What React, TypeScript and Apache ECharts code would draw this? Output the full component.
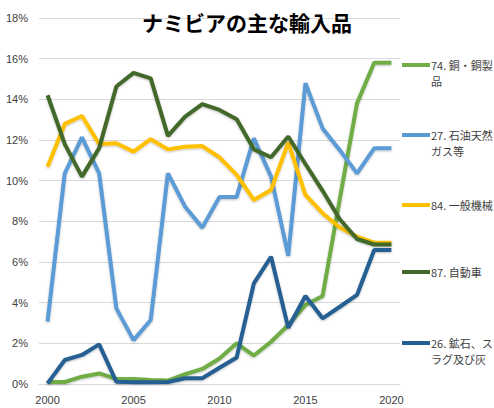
import React, { useEffect, useRef } from "react";
import * as echarts from "echarts";

const years = ["2000","2001","2002","2003","2004","2005","2006","2007","2008","2009","2010","2011","2012","2013","2014","2015","2016","2017","2018","2019","2020"];

const seriesNames = ["74. 銅・銅製品", "27. 石油天然ガス等", "84. 一般機械", "87. 自動車", "26. 鉱石、スラグ及び灰"];
const legendLabels = ["74. 銅・銅製\n品", "27. 石油天然\nガス等", "84. 一般機械", "87. 自動車", "26. 鉱石、ス\nラグ及び灰"];
const seriesColors = ["#70AD47", "#5B9BD5", "#FFC000", "#43682B", "#255E91"];

const copper = [0.1, 0.1, 0.36, 0.52, 0.25, 0.25, 0.2, 0.17, 0.48, 0.74, 1.25, 2.0, 1.4, 2.08, 2.9, 3.89, 4.33, 9.1, 13.8, 15.8, 15.8];
const oilGas = [3.07, 10.36, 12.13, 10.36, 3.72, 2.16, 3.15, 10.36, 8.72, 7.69, 9.2, 9.2, 12.08, 10.2, 6.31, 14.79, 12.57, 11.5, 10.36, 11.59, 11.6];
const machinery = [10.69, 12.79, 13.18, 11.8, 11.84, 11.43, 12.04, 11.54, 11.67, 11.7, 11.15, 10.28, 9.05, 9.54, 11.87, 9.3, 8.4, 7.7, 7.25, 6.95, 6.95];
const vehicles = [14.2, 11.8, 10.2, 11.6, 14.63, 15.3, 15.03, 12.2, 13.15, 13.76, 13.48, 13.02, 11.54, 11.15, 12.17, 10.82, 9.5, 8.1, 7.13, 6.86, 6.86];
const ores = [0.03, 1.18, 1.43, 1.95, 0.11, 0.08, 0.08, 0.1, 0.28, 0.28, 0.8, 1.3, 4.95, 6.26, 2.77, 4.33, 3.23, 3.8, 4.38, 6.59, 6.59];

const seriesData = [copper, oilGas, machinery, vehicles, ores];

const titleText = "ナミビアの主な輸入品";

export default function App() {
  const ref = useRef<HTMLDivElement>(null);

  useEffect(() => {
    if (!ref.current) return;
    const chart = echarts.init(ref.current, undefined, { renderer: "svg" });
    const legendY = [65, 135, 205, 272, 343];
    const cjk = "'Noto Sans CJK JP', 'Noto Sans', sans-serif";
    const graphics: any[] = [];
    legendLabels.forEach((lab, i) => {
      graphics.push({
        type: "line",
        shape: { x1: 402, y1: legendY[i], x2: 430, y2: legendY[i] },
        style: { stroke: seriesColors[i], lineWidth: 4 },
      });
      graphics.push({
        type: "text",
        x: 431,
        y: legendY[i] - 8,
        style: {
          text: lab,
          font: `11px ${cjk}`,
          fill: "#404040",
          lineHeight: 16,
          verticalAlign: "top",
          align: "left",
        },
      });
    });

    chart.setOption({
      animation: false,
      backgroundColor: "#ffffff",
      title: {
        text: titleText,
        left: "center",
        top: 6,
        textStyle: { fontFamily: cjk, fontSize: 21, fontWeight: "bold", color: "#000000" },
      },
      grid: { left: 39, right: 94, top: 18, bottom: 24 },
      xAxis: {
        type: "category",
        data: years,
        boundaryGap: true,
        axisTick: { show: false },
        axisLine: { show: true, lineStyle: { color: "#D9D9D9", width: 1 } },
        axisLabel: {
          interval: 4,
          margin: 10,
          color: "#404040",
          fontSize: 11,
          fontFamily: "'Liberation Sans', sans-serif",
        },
        splitLine: { show: false },
      },
      yAxis: {
        type: "value",
        min: 0,
        max: 18,
        interval: 2,
        axisLine: { show: false },
        axisTick: { show: false },
        axisLabel: {
          formatter: "{value}%",
          margin: 11,
          color: "#404040",
          fontSize: 11,
          fontFamily: "'Liberation Sans', sans-serif",
        },
        splitLine: { lineStyle: { color: "#D9D9D9", width: 1 } },
      },
      series: seriesNames.map((name, i) => ({
        name,
        type: "line",
        data: seriesData[i],
        symbol: "none",
        lineStyle: {
          color: seriesColors[i],
          width: 4,
          shadowColor: "rgba(0,0,0,0.25)",
          shadowBlur: 2,
          shadowOffsetY: 1,
        },
        itemStyle: { color: seriesColors[i] },
      })),
      graphic: graphics,
    });
    return () => chart.dispose();
  }, []);

  return (
    <div
      ref={ref}
      style={{ position: "fixed", left: 0, top: 0, width: 494, height: 408 }}
    />
  );
}
